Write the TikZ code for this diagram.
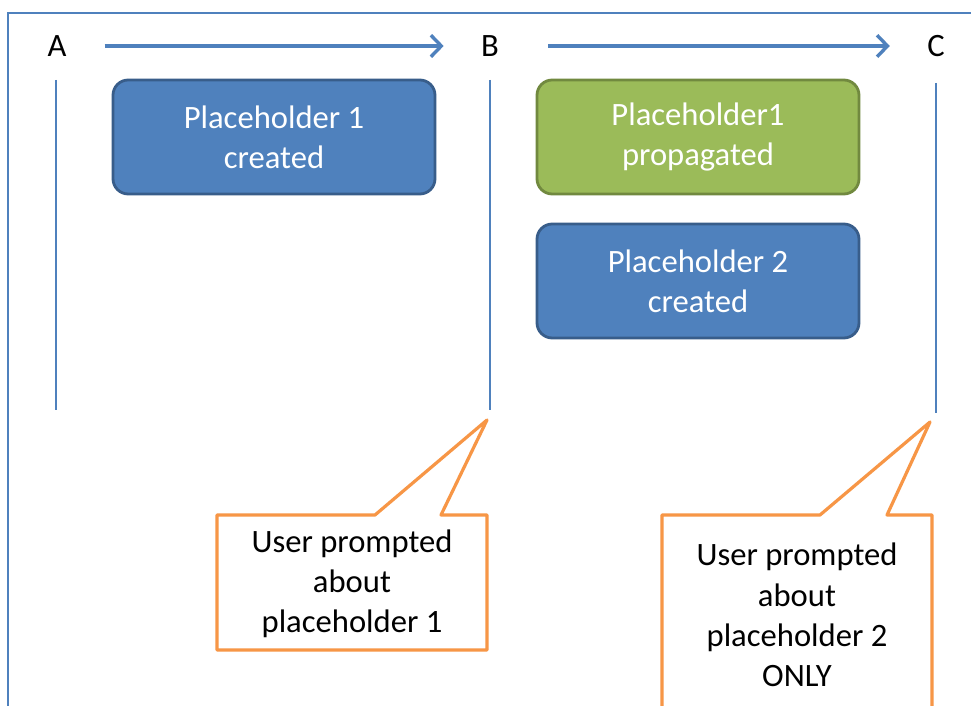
\documentclass[tikz,border=0pt]{standalone}
\usepackage{fontspec}
\setmainfont{Carlito}
\usetikzlibrary{arrows.meta, positioning}

\definecolor{phblue}{HTML}{4F81BD}
\definecolor{phblueedge}{HTML}{385D8A}
\definecolor{phgreen}{HTML}{9BBB59}
\definecolor{phgreenedge}{HTML}{71893F}
\definecolor{askorange}{HTML}{F79646}

\begin{document}
\begin{tikzpicture}[
    x=0.25mm, y=-0.25mm,
    every node/.style={font=\fontsize{23.2}{28.6}\selectfont},
    stage/.style={inner sep=0pt},
    lane/.style={draw=phblue, line width=0.38mm},
    flow/.style={draw=phblue, line width=0.85mm, -{Straight Barb[length=2.6mm, width=5.4mm, line width=0.85mm]}},
    phbox/.style={rounded corners=3.8mm, align=center, text=white, line width=0.7mm, minimum width=80.5mm, minimum height=28.5mm},
    created/.style={phbox, fill=phblue, draw=phblueedge},
    propagated/.style={phbox, fill=phgreen, draw=phgreenedge},
    callout/.style={draw=askorange, line width=0.8mm, line join=round},
    asktext/.style={align=center, text=black}
]
\clip (0,0) rectangle (971,706);
\fill[white] (0,0) rectangle (971,706);
\draw[phblue, line width=0.5mm] (8,720) -- (8,13) -- (990,13);

% stages
\node[stage] (A) at (57,46) {A};
\node[stage] (B) at (490,46) {B};
\node[stage] (C) at (936,46) {C};

\draw[flow, shorten <=9.5mm, shorten >=9.3mm] (A) -- (B);
\draw[flow, shorten <=12.3mm, shorten >=9.3mm] (B) -- (C);

\draw[lane] (56,80) -- (56,410);
\draw[lane] (490,80) -- (490,410);
\draw[lane] (936,83) -- (936,413);

% placeholders
\node[created] (ph1) at (274,137) {Placeholder 1\\created};
\node[propagated] (ph1prop) at (698,137) {Placeholder1\\propagated};
\node[created] (ph2) at (698,281) {Placeholder 2\\created};

% prompts
\coordinate (tipB) at (487,420);
\coordinate (tipC) at (930,422);
\node[asktext] (askB) at (352,584) {User prompted\\about\\placeholder 1};
\node[asktext] (askC) at (797,615) {User prompted\\about\\placeholder 2\\ONLY};

\draw[callout] (375,515) -- (tipB) -- (441,515) -- (487,515) -- (487,650) -- (217,650) -- (217,515) -- cycle;
\draw[callout] (820,515) -- (tipC) -- (887,515) -- (932,515) -- (932,740) -- (662,740) -- (662,515) -- cycle;

\end{tikzpicture}
\end{document}
